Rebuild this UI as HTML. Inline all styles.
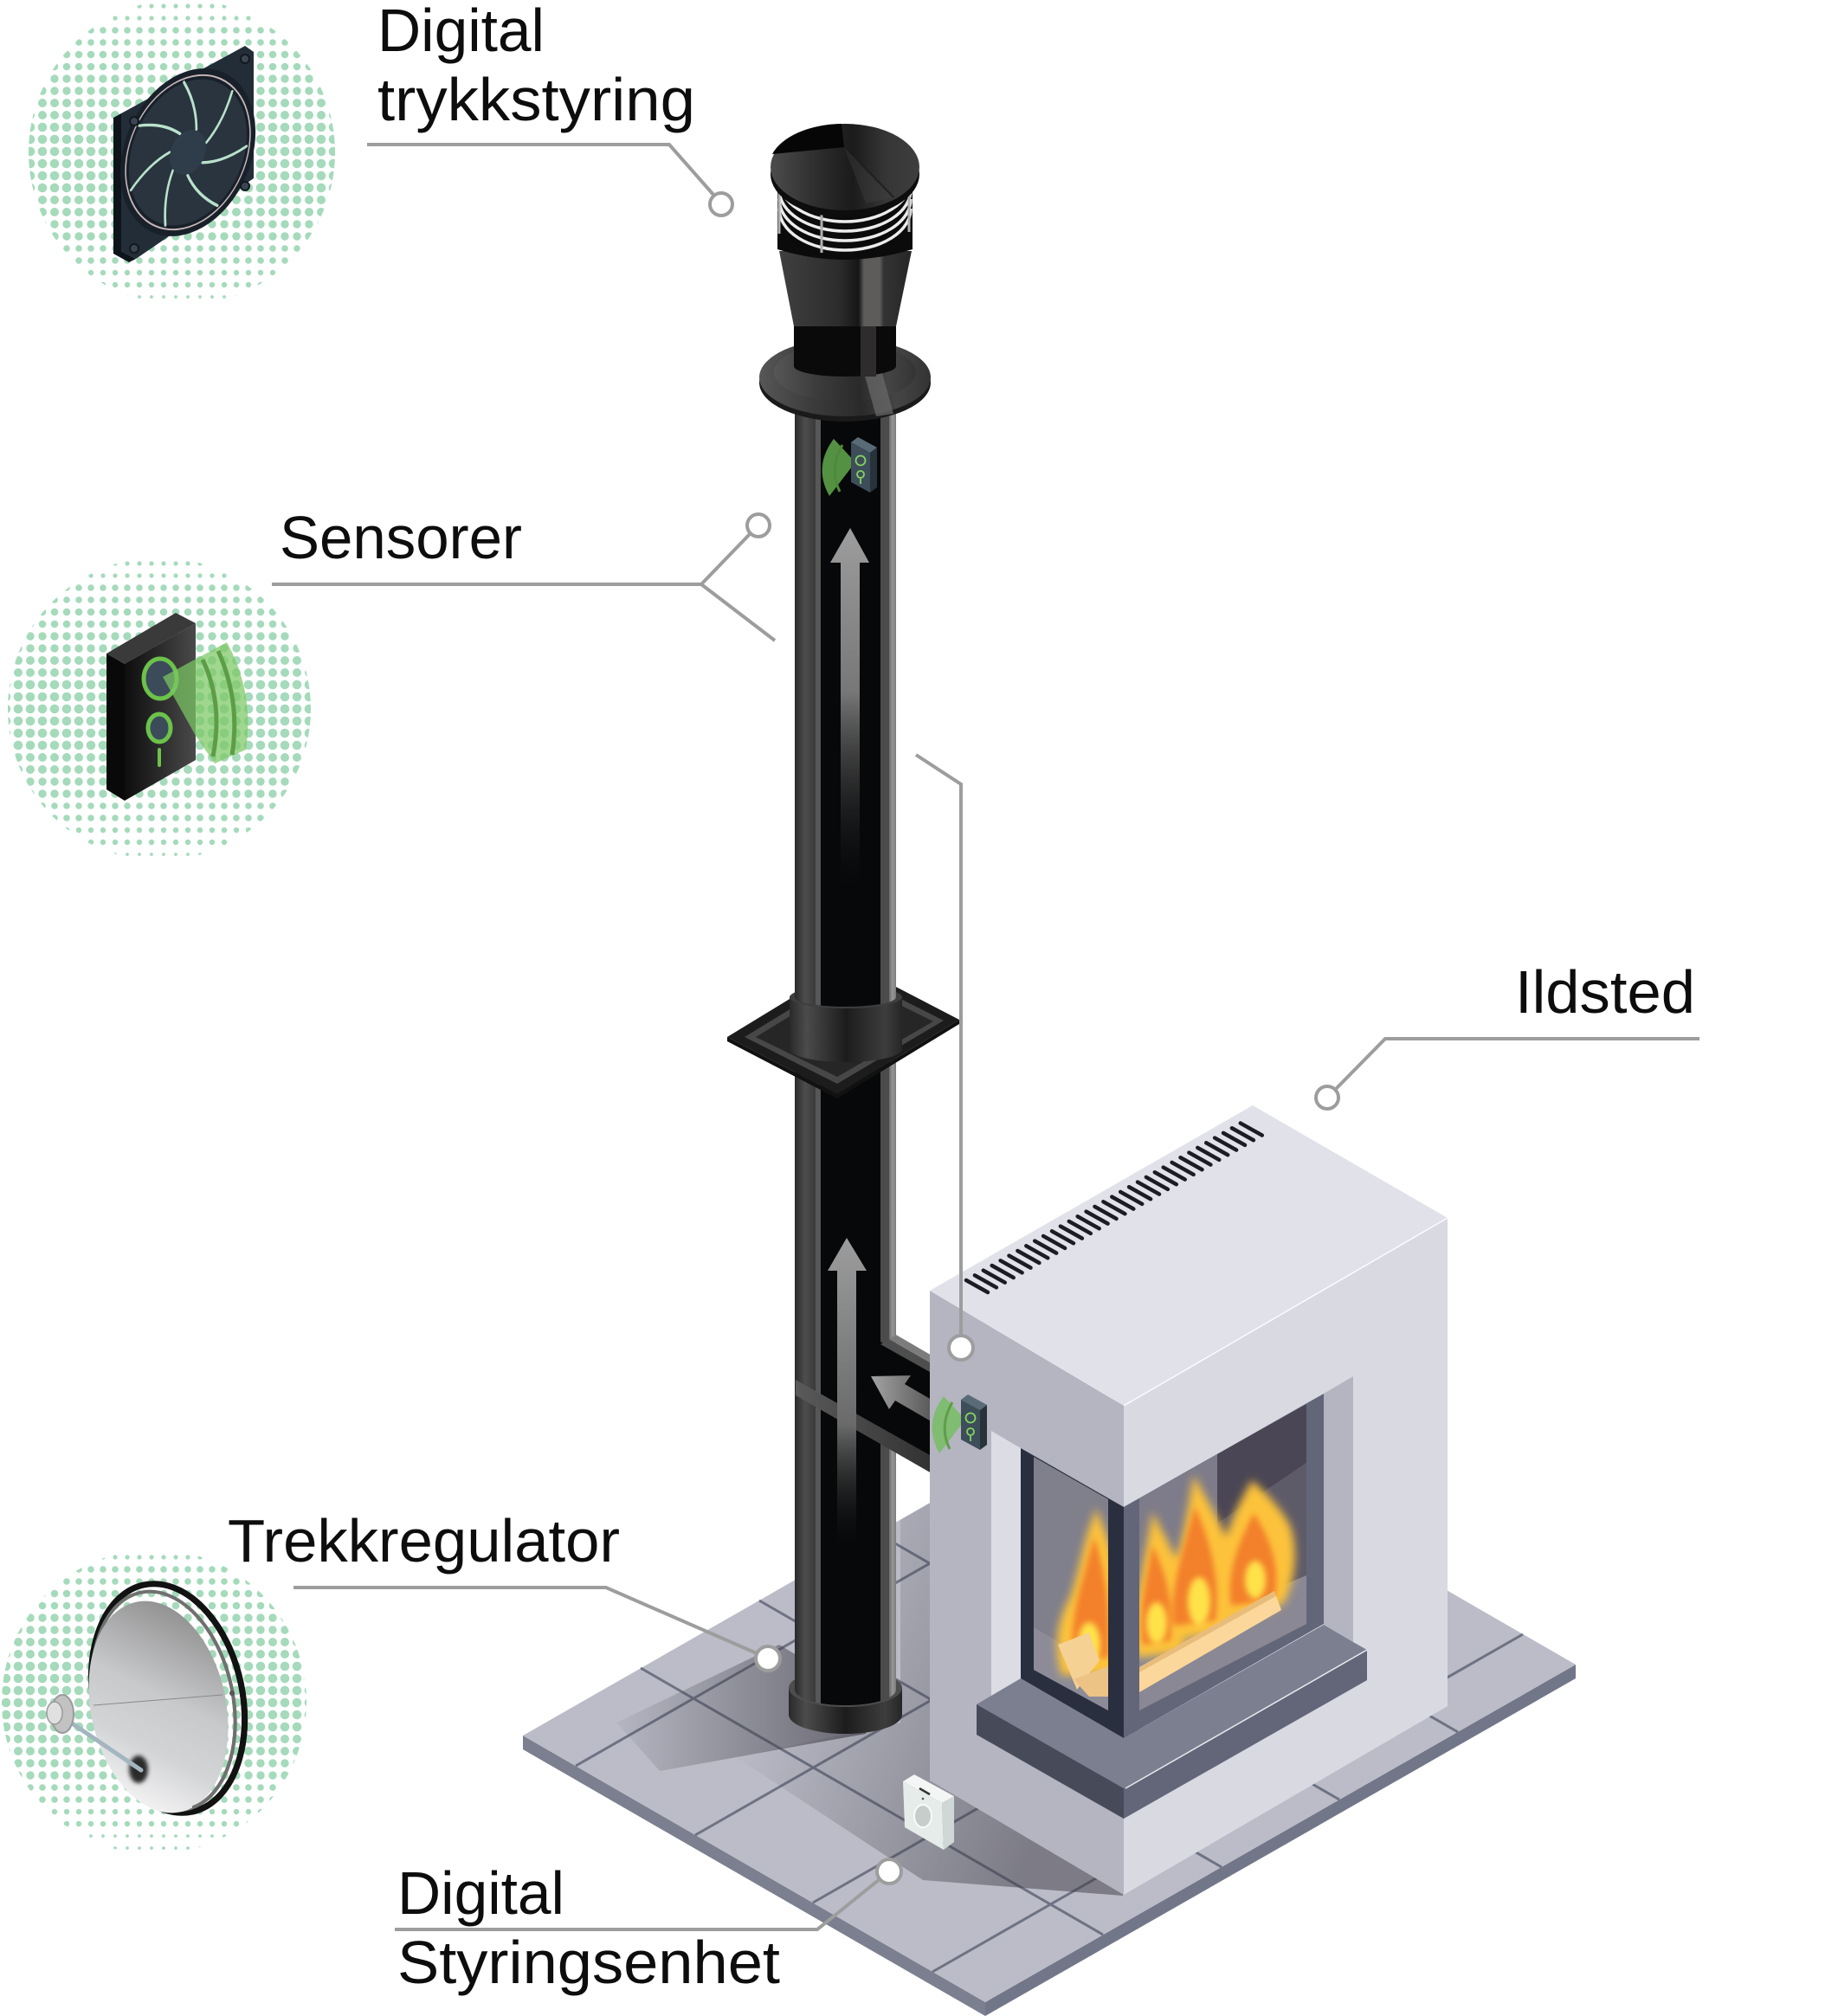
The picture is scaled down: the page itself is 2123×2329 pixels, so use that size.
<!DOCTYPE html>
<html><head><meta charset="utf-8">
<style>
html,body{margin:0;padding:0;background:#fff;}
svg{display:block;}
text{font-family:"Liberation Sans",Arial,sans-serif;fill:#0d0d0d;}
</style></head><body>
<svg width="2123" height="2329" viewBox="0 0 2123 2329" xmlns="http://www.w3.org/2000/svg">
<defs>
  <pattern id="p1" width="14" height="14" patternUnits="userSpaceOnUse"><circle cx="7" cy="7" r="1.9" fill="#a5dabb"/></pattern>
  <pattern id="p2" width="14" height="14" patternUnits="userSpaceOnUse"><circle cx="7" cy="7" r="2.6" fill="#a5dabb"/></pattern>
  <pattern id="p3" width="14" height="14" patternUnits="userSpaceOnUse"><circle cx="7" cy="7" r="3.2" fill="#a5dabb"/></pattern>
  <pattern id="p4" width="14" height="14" patternUnits="userSpaceOnUse"><circle cx="7" cy="7" r="3.8" fill="#a5dabb"/></pattern>
  <pattern id="p5" width="14" height="14" patternUnits="userSpaceOnUse"><circle cx="7" cy="7" r="4.3" fill="#a5dabb"/></pattern>
  <pattern id="p6" width="14" height="14" patternUnits="userSpaceOnUse"><circle cx="7" cy="7" r="4.7" fill="#a5dabb"/></pattern>
  <pattern id="p7" width="14" height="14" patternUnits="userSpaceOnUse"><circle cx="7" cy="7" r="5.0" fill="#a5dabb"/></pattern>
  <pattern id="p8" width="14" height="14" patternUnits="userSpaceOnUse"><circle cx="7" cy="7" r="5.3" fill="#a5dabb"/></pattern>

  <clipPath id="cc1"><circle cx="210" cy="176" r="177"/></clipPath>
  <clipPath id="cc2"><circle cx="184" cy="819" r="175"/></clipPath>
  <clipPath id="cc3"><circle cx="178" cy="1966" r="176"/></clipPath>
  <clipPath id="floorClip"><polygon points="604,2005 1138,2313 1820,1923 1286,1615"/></clipPath>

  <clipPath id="clipUpper"><path d="M918,470 H1035 V1152 A58.5,11 0 0 1 918,1152 Z"/></clipPath>
  <clipPath id="clipLower"><path d="M918,1200 H1035 V1952 A58.5,18 0 0 1 918,1952 Z"/></clipPath>
  <clipPath id="clipGlass">
    <polygon points="1194,1683 1280,1732 1280,1976 1194,1929"/>
    <polygon points="1316,1731 1509,1622 1509,1876 1316,1976"/>
  </clipPath>
  <clipPath id="ringRight"><rect x="222" y="1800" width="80" height="320"/></clipPath>

  <linearGradient id="gPL" x1="0" y1="0" x2="1" y2="0"><stop offset="0" stop-color="#2a2a2a"/><stop offset="0.5" stop-color="#4d4d4d"/><stop offset="1" stop-color="#3a3a3a"/></linearGradient>
  <linearGradient id="gPR" x1="0" y1="0" x2="1" y2="0"><stop offset="0" stop-color="#6a6a6a"/><stop offset="0.5" stop-color="#979797"/><stop offset="1" stop-color="#7a7a7a"/></linearGradient>
  <linearGradient id="gCol" x1="0" y1="0" x2="1" y2="0"><stop offset="0" stop-color="#2a2a2a"/><stop offset="0.15" stop-color="#4b4b4b"/><stop offset="0.5" stop-color="#1c1c1c"/><stop offset="0.85" stop-color="#3d3d3d"/><stop offset="1" stop-color="#262626"/></linearGradient>
  <linearGradient id="gFl" x1="0" y1="0" x2="1" y2="0"><stop offset="0" stop-color="#575757"/><stop offset="0.3" stop-color="#3c3c3c"/><stop offset="0.6" stop-color="#2a2a2a"/><stop offset="0.8" stop-color="#454545"/><stop offset="1" stop-color="#333"/></linearGradient>
  <linearGradient id="gTaper" x1="0" y1="0" x2="1" y2="0"><stop offset="0" stop-color="#404040"/><stop offset="0.45" stop-color="#2c2c2c"/><stop offset="0.6" stop-color="#161616"/><stop offset="0.64" stop-color="#5e5b5b"/><stop offset="0.76" stop-color="#5e5b5b"/><stop offset="0.79" stop-color="#333"/><stop offset="1" stop-color="#262626"/></linearGradient>
  <linearGradient id="gCap" x1="0" y1="0" x2="1" y2="0"><stop offset="0" stop-color="#4c4c4c"/><stop offset="0.35" stop-color="#2a2a2a"/><stop offset="0.55" stop-color="#1b1b1b"/><stop offset="0.78" stop-color="#363636"/><stop offset="1" stop-color="#3e3e3e"/></linearGradient>
  <linearGradient id="gAr1" x1="0" y1="610" x2="0" y2="1030" gradientUnits="userSpaceOnUse"><stop offset="0" stop-color="#9d9d9d"/><stop offset="0.45" stop-color="#777"/><stop offset="1" stop-color="#111" stop-opacity="0"/></linearGradient>
  <linearGradient id="gAr2" x1="0" y1="1430" x2="0" y2="1790" gradientUnits="userSpaceOnUse"><stop offset="0" stop-color="#9d9d9d"/><stop offset="0.6" stop-color="#6a6a6a"/><stop offset="1" stop-color="#111" stop-opacity="0"/></linearGradient>
  <linearGradient id="gAr3" x1="1006" y1="0" x2="1090" y2="0" gradientUnits="userSpaceOnUse"><stop offset="0" stop-color="#a3a3a3"/><stop offset="1" stop-color="#4a4a4a"/></linearGradient>
  <linearGradient id="gSens" x1="0" y1="0" x2="1" y2="0"><stop offset="0" stop-color="#0d0d0d"/><stop offset="1" stop-color="#4a4a4a"/></linearGradient>
  <linearGradient id="gDish" x1="0.75" y1="0" x2="0.25" y2="1"><stop offset="0" stop-color="#8c8c8c"/><stop offset="0.45" stop-color="#c8c9cb"/><stop offset="0.7" stop-color="#d3d4d6"/><stop offset="1" stop-color="#f7f7f7"/></linearGradient>
  <linearGradient id="gSh1" x1="712" y1="0" x2="1000" y2="0" gradientUnits="userSpaceOnUse"><stop offset="0" stop-color="#3c3a44" stop-opacity="0.05"/><stop offset="1" stop-color="#3c3a44" stop-opacity="0.65"/></linearGradient>
  <linearGradient id="gSh2" x1="850" y1="2000" x2="1200" y2="2120" gradientUnits="userSpaceOnUse"><stop offset="0" stop-color="#3c3a44" stop-opacity="0"/><stop offset="1" stop-color="#3c3a44" stop-opacity="0.5"/></linearGradient>
  <linearGradient id="gTee" x1="0" y1="0" x2="1" y2="0"><stop offset="0" stop-color="#5a5a5a"/><stop offset="1" stop-color="#2e2e2e"/></linearGradient>
  <filter id="blur5" x="-50%" y="-50%" width="200%" height="200%"><feGaussianBlur stdDeviation="5"/></filter>
  <filter id="blur3" x="-50%" y="-50%" width="200%" height="200%"><feGaussianBlur stdDeviation="3.5"/></filter>
  <filter id="blur2" x="-40%" y="-40%" width="180%" height="180%"><feGaussianBlur stdDeviation="2.5"/></filter>
</defs>

<!-- ============ HALFTONE CIRCLES ============ -->
<g clip-path="url(#cc1)">
  <rect x="30" y="0" width="360" height="28" fill="url(#p2)"/>
  <rect x="30" y="28" width="360" height="28" fill="url(#p4)"/>
  <rect x="30" y="56" width="360" height="28" fill="url(#p5)"/>
  <rect x="30" y="84" width="360" height="28" fill="url(#p6)"/>
  <rect x="30" y="112" width="360" height="28" fill="url(#p7)"/>
  <rect x="30" y="140" width="360" height="84" fill="url(#p8)"/>
  <rect x="30" y="224" width="360" height="28" fill="url(#p7)"/>
  <rect x="30" y="252" width="360" height="28" fill="url(#p6)"/>
  <rect x="30" y="280" width="360" height="28" fill="url(#p4)"/>
  <rect x="30" y="308" width="360" height="28" fill="url(#p3)"/>
  <rect x="30" y="336" width="360" height="28" fill="url(#p1)"/>
</g>
<g clip-path="url(#cc2)">
  <rect x="4" y="644" width="360" height="28" fill="url(#p2)"/>
  <rect x="4" y="672" width="360" height="28" fill="url(#p4)"/>
  <rect x="4" y="700" width="360" height="28" fill="url(#p5)"/>
  <rect x="4" y="728" width="360" height="28" fill="url(#p6)"/>
  <rect x="4" y="756" width="360" height="28" fill="url(#p7)"/>
  <rect x="4" y="784" width="360" height="84" fill="url(#p8)"/>
  <rect x="4" y="868" width="360" height="28" fill="url(#p7)"/>
  <rect x="4" y="896" width="360" height="28" fill="url(#p6)"/>
  <rect x="4" y="924" width="360" height="28" fill="url(#p4)"/>
  <rect x="4" y="952" width="360" height="28" fill="url(#p3)"/>
  <rect x="4" y="980" width="360" height="28" fill="url(#p1)"/>
</g>
<g clip-path="url(#cc3)">
  <rect x="0" y="1778" width="360" height="28" fill="url(#p2)"/>
  <rect x="0" y="1806" width="360" height="28" fill="url(#p4)"/>
  <rect x="0" y="1834" width="360" height="28" fill="url(#p5)"/>
  <rect x="0" y="1862" width="360" height="28" fill="url(#p6)"/>
  <rect x="0" y="1890" width="360" height="28" fill="url(#p7)"/>
  <rect x="0" y="1918" width="360" height="84" fill="url(#p8)"/>
  <rect x="0" y="2002" width="360" height="28" fill="url(#p7)"/>
  <rect x="0" y="2030" width="360" height="28" fill="url(#p6)"/>
  <rect x="0" y="2058" width="360" height="28" fill="url(#p4)"/>
  <rect x="0" y="2086" width="360" height="28" fill="url(#p3)"/>
  <rect x="0" y="2114" width="360" height="42" fill="url(#p1)"/>
</g>

<!-- ============ FAN ICON ============ -->
<g>
  <polygon points="131,136 140,131 140,290 157,299 149,303 131,293" fill="#0e141a"/>
  <polygon points="140,131 283,53 293,60 293,206 157,299 140,290" fill="#222d38"/>
  <g transform="translate(217,176) rotate(24) scale(0.72,1)">
    <circle r="101" fill="#18212a"/>
    <circle r="93" fill="none" stroke="#c9b7bb" stroke-width="2"/>
    <circle r="88" fill="#29343f"/>
    <g fill="none" stroke="#b9e2cb" stroke-width="3.5" stroke-linecap="round">
      <path d="M28,4 Q58,-6 82,-34"/>
      <path d="M28,4 Q58,-6 82,-34" transform="rotate(51)"/>
      <path d="M28,4 Q58,-6 82,-34" transform="rotate(103)"/>
      <path d="M28,4 Q58,-6 82,-34" transform="rotate(154)"/>
      <path d="M28,4 Q58,-6 82,-34" transform="rotate(206)"/>
      <path d="M28,4 Q58,-6 82,-34" transform="rotate(257)"/>
      <path d="M28,4 Q58,-6 82,-34" transform="rotate(309)"/>
    </g>
    <circle r="27" fill="#2f3d4a"/>
  </g>
  <g fill="#3b4652" stroke="#12181e" stroke-width="2">
    <circle cx="283" cy="68" r="5"/><circle cx="155" cy="140" r="5"/>
    <circle cx="283" cy="215" r="5"/><circle cx="155" cy="287" r="5"/>
  </g>
</g>

<!-- ============ SENSOR ICON ============ -->
<g>
  <polygon points="123,755 144,767 144,925 123,912" fill="#090909"/>
  <polygon points="123,755 203,708 226,720 144,767" fill="#3a3a3a"/>
  <polygon points="144,767 226,720 226,878 144,925" fill="url(#gSens)"/>
  <ellipse cx="185" cy="784" rx="19" ry="23" fill="#3b4b59" stroke="#6cc24a" stroke-width="5"/>
  <ellipse cx="184" cy="841" rx="13" ry="16" fill="#3b4b59" stroke="#6cc24a" stroke-width="5"/>
  <line x1="184" y1="866" x2="184" y2="884" stroke="#6cc24a" stroke-width="4" stroke-linecap="round"/>
  <path d="M188,782 L262,742 Q294,800 284,866 L248,882 L226,850 Z" fill="#7cc764" opacity="0.72"/>
  <path d="M234,762 Q258,812 246,874" fill="none" stroke="#5d9d48" stroke-width="5"/>
  <path d="M252,752 Q278,810 268,872" fill="none" stroke="#5d9d48" stroke-width="5"/>
</g>

<!-- ============ DAMPER ICON ============ -->
<g>
  <ellipse cx="194" cy="1962" rx="86" ry="134" transform="rotate(-12 194 1962)" fill="none" stroke="#121212" stroke-width="7"/>
  <ellipse cx="189" cy="1965" rx="80" ry="128" transform="rotate(-12 189 1965)" fill="none" stroke="#707070" stroke-width="4"/>
  <ellipse cx="183" cy="1972" rx="78" ry="124" transform="rotate(-12 183 1972)" fill="url(#gDish)"/>
  <g clip-path="url(#ringRight)">
    <ellipse cx="194" cy="1962" rx="86" ry="134" transform="rotate(-12 194 1962)" fill="none" stroke="#121212" stroke-width="7"/>
    <ellipse cx="189" cy="1965" rx="80" ry="128" transform="rotate(-12 189 1965)" fill="none" stroke="#707070" stroke-width="4"/>
  </g>
  <circle cx="268" cy="1956" r="3" fill="#555"/>
  <line x1="108" y1="1970" x2="257" y2="1958" stroke="#8a8a8a" stroke-width="1"/>
  <ellipse cx="160" cy="2044" rx="11" ry="16" fill="#2a2a2a" filter="url(#blur2)"/>
  <line x1="70" y1="1982" x2="163" y2="2045" stroke="#a3b6c0" stroke-width="5" stroke-linecap="round"/>
  <ellipse cx="72" cy="1980" rx="13" ry="22" fill="#c2c2c2" stroke="#9a9a9a" stroke-width="2"/>
  <ellipse cx="63" cy="1979" rx="9" ry="13" fill="#e0e0e0" stroke="#9a9a9a" stroke-width="1.5"/>
</g>

<!-- ============ FLOOR ============ -->
<polygon points="604,2005 1138,2313 1138,2329 604,2021" fill="#7b7f8f"/>
<polygon points="1138,2313 1820,1923 1820,1939 1138,2329" fill="#727689"/>
<polygon points="604,2005 1138,2313 1820,1923 1286,1615" fill="#bbbcc7"/>
<g stroke="#6e7284" stroke-width="3" fill="none">
  <path d="M665,2040 L1347,1650 M803,2120 L1485,1730 M939,2198 L1621,1808 M1077,2278 L1759,1888"/>
  <path d="M740,1927 L1274,2235 M877,1849 L1411,2157 M1013,1771 L1547,2079 M1150,1693 L1684,2001"/>
</g>
<g clip-path="url(#floorClip)">
  <polygon points="900,1900 712,1990 762,2046 1000,2003 1000,1960" fill="url(#gSh1)"/>
  <polygon points="1074,1700 1040,1720 1040,1990 850,2030 1066,2172 1297,2190 1300,1800" fill="url(#gSh2)"/>
</g>

<!-- ============ CHIMNEY ============ -->
<path d="M911,1950 H1042 V1981 A65.5,22 0 0 1 911,1981 Z" fill="url(#gCol)"/>
<ellipse cx="976.5" cy="1950" rx="65.5" ry="22" fill="#4d4d4d"/>
<ellipse cx="976.5" cy="1952" rx="58" ry="18" fill="#151515"/>

<g clip-path="url(#clipLower)">
  <rect x="918" y="1200" width="24" height="780" fill="url(#gPL)"/>
  <rect x="942" y="1200" width="6" height="780" fill="#575757"/>
  <rect x="948" y="1200" width="69" height="780" fill="#070809"/>
  <rect x="1017" y="1200" width="10" height="780" fill="#4b4b4b"/>
  <rect x="1027" y="1200" width="8" height="780" fill="url(#gPR)"/>
</g>

<polygon points="1017,1550 1090,1592 1090,1707 948,1626 948,1550" fill="#070809"/>
<polygon points="1017,1553 1027,1547 1090,1583 1090,1594" fill="#4e4e4e"/>
<polygon points="1027,1547 1035,1542 1090,1574 1090,1583" fill="#7c7c7c"/>
<polygon points="919,1594 1090,1690 1090,1710 919,1612" fill="url(#gTee)"/>

<polygon points="840,1198 981,1112 1108,1178 967,1264" fill="#1c1c1c"/>
<polygon points="840,1198 967,1264 1108,1178 1108,1183 967,1269 840,1203" fill="#111"/>
<polygon points="860,1198 981,1124 1090,1179 967,1252" fill="#474747"/>
<polygon points="873,1198 981,1132 1078,1180 967,1244" fill="#262626"/>
<path d="M912,1152 H1042 V1212 A65,15 0 0 1 912,1212 Z" fill="url(#gCol)"/>
<ellipse cx="977" cy="1152" rx="65" ry="13" fill="#3e3e3e"/>

<g clip-path="url(#clipUpper)">
  <rect x="918" y="470" width="24" height="700" fill="url(#gPL)"/>
  <rect x="942" y="470" width="6" height="700" fill="#575757"/>
  <rect x="948" y="470" width="69" height="700" fill="#070809"/>
  <rect x="1017" y="470" width="10" height="700" fill="#4b4b4b"/>
  <rect x="1027" y="470" width="8" height="700" fill="url(#gPR)"/>
</g>

<ellipse cx="976" cy="442" rx="99" ry="45" fill="#1a1a1a"/>
<ellipse cx="976" cy="436" rx="99" ry="45" fill="url(#gFl)"/>
<ellipse cx="976" cy="430" rx="82" ry="34" fill="url(#gFl)" opacity="0.9"/>
<polygon points="995,420 1016,420 1032,478 1012,481" fill="#6a6868" opacity="0.75"/>
<path d="M917,377 H1035 V423 A59,12 0 0 1 917,423 Z" fill="#0a0a0a"/>
<rect x="994" y="377" width="18" height="58" fill="#2e2c2c"/>
<path d="M900,290 L1053,290 L1035,377 L917,377 Z" fill="url(#gTaper)"/>
<path d="M898,222 H1054 V288 Q976,312 898,288 Z" fill="#0b0b0b"/>
<g fill="none" stroke="#ececec" stroke-width="3.5">
  <path d="M900,197 A76,48 0 0 0 1052,197"/>
  <path d="M900,208 A76,48 0 0 0 1052,208"/>
  <path d="M900,219 A76,48 0 0 0 1052,219"/>
  <path d="M900,230 A76,48 0 0 0 1052,230"/>
  <path d="M900,241 A76,48 0 0 0 1052,241"/>
</g>
<g stroke="#b0b0b0" stroke-width="3">
  <line x1="900" y1="218" x2="900" y2="270"/>
  <line x1="949" y1="243" x2="949" y2="292"/>
  <line x1="1050" y1="220" x2="1050" y2="268"/>
</g>
<ellipse cx="976" cy="201" rx="86" ry="50" fill="#0d0d0d"/>
<ellipse cx="976" cy="193" rx="86" ry="50" fill="url(#gCap)"/>
<path d="M975,170 L892,178 A86,50 0 0 1 972,143 Z" fill="#060606"/>
<path d="M975,170 L1032,228" stroke="#1a1a1a" stroke-width="2"/>
<path d="M975,170 L1000,235 L1032,228 Z" fill="#444" opacity="0.35"/>

<path d="M959,650 L982,610 L1004,650 L993,650 L993,1030 L971,1030 L971,650 Z" fill="url(#gAr1)"/>
<path d="M956,1468 L978,1430 L1001,1468 L989,1468 L989,1790 L967,1790 L967,1468 Z" fill="url(#gAr2)"/>
<path d="M1006,1590 L1052,1589 L1045,1599 L1095,1628 L1084,1647 L1034,1618 L1027,1628 Z" fill="url(#gAr3)"/>

<g transform="translate(-127,-1106)">
  <path d="M1115,1640 L1090,1613 Q1066,1645 1085,1679 Z" fill="#6fbf55" opacity="0.75"/>
  <path d="M1100,1620 Q1084,1648 1097,1674" fill="none" stroke="#4e8a3c" stroke-width="3"/>
  <polygon points="1110,1617 1118,1611 1140,1623 1132,1629" fill="#5a6b78"/>
  <polygon points="1110,1617 1132,1629 1132,1675 1110,1663" fill="#3e4d5a"/>
  <polygon points="1132,1629 1140,1623 1140,1669 1132,1675" fill="#27323b"/>
  <circle cx="1121" cy="1638" r="5.5" fill="none" stroke="#84d45f" stroke-width="1.8"/>
  <circle cx="1121" cy="1654" r="4" fill="none" stroke="#84d45f" stroke-width="1.8"/>
  <line x1="1121" y1="1659" x2="1121" y2="1665" stroke="#84d45f" stroke-width="1.8"/>
</g>

<!-- ============ FIREPLACE ============ -->
<polygon points="1074,1491 1298,1624 1298,2189 1074,2057" fill="#b4b5c1"/>
<polygon points="1298,1624 1672,1407 1672,1971 1298,2189" fill="#d9d9e2"/>
<polygon points="1447,1277 1672,1407 1298,1624 1074,1491" fill="#e1e1ea"/>
<line x1="1298" y1="1624" x2="1672" y2="1407" stroke="#fff" stroke-width="1.5" opacity="0.9"/>
<path d="M1116,1479 l25,14 m-15.1,-19.67 l25,14 m-15.1,-19.67 l25,14 m-15.1,-19.67 l25,14 m-15.1,-19.67 l25,14 m-15.1,-19.67 l25,14 m-15.1,-19.67 l25,14 m-15.1,-19.67 l25,14 m-15.1,-19.67 l25,14 m-15.1,-19.67 l25,14 m-15.1,-19.67 l25,14 m-15.1,-19.67 l25,14 m-15.1,-19.67 l25,14 m-15.1,-19.67 l25,14 m-15.1,-19.67 l25,14 m-15.1,-19.67 l25,14 m-15.1,-19.67 l25,14 m-15.1,-19.67 l25,14 m-15.1,-19.67 l25,14 m-15.1,-19.67 l25,14 m-15.1,-19.67 l25,14 m-15.1,-19.67 l25,14 m-15.1,-19.67 l25,14 m-15.1,-19.67 l25,14 m-15.1,-19.67 l25,14 m-15.1,-19.67 l25,14 m-15.1,-19.67 l25,14 m-15.1,-19.67 l25,14 m-15.1,-19.67 l25,14 m-15.1,-19.67 l25,14 m-15.1,-19.67 l25,14 m-15.1,-19.67 l25,14 m-15.1,-19.67 l25,14" stroke="#1c1c22" stroke-width="4.5" stroke-linecap="round" fill="none"/>

<polygon points="1145,1653 1179,1673 1179,1950 1145,1962" fill="#dcdce5"/>
<polygon points="1179,1673 1298,1741 1298,2008 1179,1939" fill="#2a2f3f"/>
<polygon points="1194,1683 1280,1732 1280,1976 1194,1929" fill="#807f8c"/>
<polygon points="1194,1880 1280,1930 1280,1976 1194,1929" fill="#8c8b97"/>
<polygon points="1529,1610 1563,1590 1563,1897 1529,1877" fill="#b4b5c1"/>
<polygon points="1298,1741 1529,1610 1529,1876 1298,2008" fill="#636679"/>
<polygon points="1316,1731 1509,1622 1509,1876 1316,1976" fill="#7e7c8a"/>
<polygon points="1406,1680 1509,1622 1509,1690 1406,1760" fill="#4a4655"/>
<polygon points="1406,1760 1509,1690 1509,1840 1406,1850" fill="#5e5b69"/>
<polygon points="1316,1900 1509,1820 1509,1876 1316,1976" fill="#8a8894"/>

<!-- fire -->
<g clip-path="url(#clipGlass)">
  <g filter="url(#blur5)" fill="#fdc23a">
    <path d="M1226,1935 C1216,1900 1222,1870 1236,1845 C1246,1815 1250,1790 1258,1765 C1262,1755 1264,1748 1266,1742 C1276,1770 1292,1800 1292,1845 L1292,1935 Z"/>
    <path d="M1312,1915 C1304,1880 1312,1850 1318,1820 C1322,1795 1328,1770 1331,1746 C1344,1775 1366,1805 1370,1840 C1376,1870 1370,1895 1364,1910 Z"/>
    <path d="M1344,1895 C1336,1860 1350,1825 1362,1790 C1370,1760 1374,1730 1379,1704 C1394,1735 1416,1765 1424,1800 C1432,1835 1428,1865 1420,1888 Z"/>
    <path d="M1408,1872 C1398,1840 1404,1800 1418,1770 C1426,1745 1438,1725 1446,1710 C1462,1725 1478,1740 1490,1762 C1500,1790 1496,1825 1484,1850 C1474,1862 1446,1868 1408,1872 Z"/>
  </g>
  <g filter="url(#blur3)" fill="#f3802c">
    <path d="M1240,1915 C1234,1875 1248,1835 1264,1775 C1276,1815 1284,1860 1280,1915 Z"/>
    <path d="M1320,1900 C1314,1865 1324,1830 1331,1785 C1346,1815 1356,1850 1352,1895 Z"/>
    <path d="M1356,1878 C1350,1835 1368,1790 1380,1740 C1398,1780 1410,1825 1404,1872 Z"/>
    <path d="M1422,1855 C1416,1815 1432,1780 1448,1748 C1466,1775 1480,1810 1472,1848 Z"/>
  </g>
  <g filter="url(#blur3)" fill="#ffe24a">
    <ellipse cx="1258" cy="1900" rx="13" ry="26"/>
    <ellipse cx="1336" cy="1875" rx="12" ry="24"/>
    <ellipse cx="1385" cy="1850" rx="13" ry="28"/>
    <ellipse cx="1450" cy="1825" rx="12" ry="22"/>
  </g>
  <polygon points="1316,1926 1472,1838 1480,1860 1316,1955" fill="#fbd79b"/>
  <polygon points="1316,1926 1472,1838 1474,1844 1316,1932" fill="#e8bd7c"/>
  <polygon points="1222,1900 1258,1886 1270,1918 1244,1952" fill="#f5d193"/>
  <polygon points="1240,1940 1280,1925 1280,1960 1258,1960" fill="#edc385"/>
</g>
<polygon points="1280,1732 1298,1741 1298,2008 1280,1998" fill="#2a2f3f"/>
<polygon points="1298,1741 1316,1731 1316,1998 1298,2008" fill="#636679"/>

<polygon points="1128,1969 1298,2066 1579,1906 1563,1897 1529,1877 1298,2008 1179,1939 1145,1959" fill="#7b7f8f"/>
<polygon points="1128,1969 1298,2066 1298,2101 1128,2004" fill="#474a59"/>
<polygon points="1298,2066 1579,1906 1579,1941 1298,2101" fill="#636679"/>
<line x1="1300" y1="2066" x2="1579" y2="1906" stroke="#fff" stroke-width="1.5" opacity="0.85"/>

<g>
  <path d="M1115,1640 L1090,1613 Q1066,1645 1085,1679 Z" fill="#6fbf55" opacity="0.75"/>
  <path d="M1100,1620 Q1084,1648 1097,1674" fill="none" stroke="#5f9d4a" stroke-width="3"/>
  <polygon points="1110,1617 1118,1611 1140,1623 1132,1629" fill="#5a6b78"/>
  <polygon points="1110,1617 1132,1629 1132,1675 1110,1663" fill="#3e4d5a"/>
  <polygon points="1132,1629 1140,1623 1140,1669 1132,1675" fill="#27323b"/>
  <circle cx="1121" cy="1638" r="5.5" fill="none" stroke="#84d45f" stroke-width="1.8"/>
  <circle cx="1121" cy="1654" r="4" fill="none" stroke="#84d45f" stroke-width="1.8"/>
  <line x1="1121" y1="1659" x2="1121" y2="1665" stroke="#84d45f" stroke-width="1.8"/>
</g>

<g>
  <polygon points="1043,2058 1056,2050 1102,2075 1088,2083" fill="#f3f6f5"/>
  <polygon points="1043,2058 1088,2083 1090,2137 1045,2111" fill="#e6ecea"/>
  <polygon points="1088,2083 1102,2075 1102,2128 1090,2137" fill="#cfd8d5"/>
  <ellipse cx="1066" cy="2098" rx="10" ry="13" fill="#c6cdcb" stroke="#f8faf9" stroke-width="2"/>
  <line x1="1062" y1="2066" x2="1074" y2="2073" stroke="#333" stroke-width="2.5"/>
  <circle cx="1066" cy="2078" r="1.3" fill="#555"/>
</g>

<!-- ============ LEADER LINES ============ -->
<g stroke="#9d9d9d" stroke-width="4" fill="none" stroke-linejoin="miter">
  <path d="M424,167 H773 L825,226"/>
  <path d="M314,675 H810 L867,616 M810,675 L895,740"/>
  <path d="M1963,1200 H1600 L1542,1259"/>
  <path d="M1058,872 L1110,906 V1543"/>
  <path d="M339,1834 H700 L874,1910"/>
  <path d="M456,2229 H944 L1016,2171"/>
</g>
<g stroke="#9d9d9d" stroke-width="4" fill="#fff">
  <circle cx="833" cy="236" r="13"/>
  <circle cx="876" cy="607" r="13"/>
  <circle cx="1533" cy="1268" r="13"/>
  <circle cx="1110" cy="1557" r="14"/>
  <circle cx="887" cy="1916" r="14"/>
  <circle cx="1027" cy="2162" r="14"/>
</g>

<!-- ============ TEXT ============ -->
<text x="436" y="59" font-size="70" textLength="193" lengthAdjust="spacingAndGlyphs">Digital</text>
<text x="436" y="139" font-size="70" textLength="367" lengthAdjust="spacingAndGlyphs">trykkstyring</text>
<text x="323" y="645" font-size="70" textLength="280" lengthAdjust="spacingAndGlyphs">Sensorer</text>
<text x="1750" y="1170" font-size="70" textLength="208" lengthAdjust="spacingAndGlyphs">Ildsted</text>
<text x="263" y="1804" font-size="70" textLength="453" lengthAdjust="spacingAndGlyphs">Trekkregulator</text>
<text x="459" y="2211" font-size="70" textLength="193" lengthAdjust="spacingAndGlyphs">Digital</text>
<text x="459" y="2291" font-size="70" textLength="442" lengthAdjust="spacingAndGlyphs">Styringsenhet</text>
</svg>
</body></html>
